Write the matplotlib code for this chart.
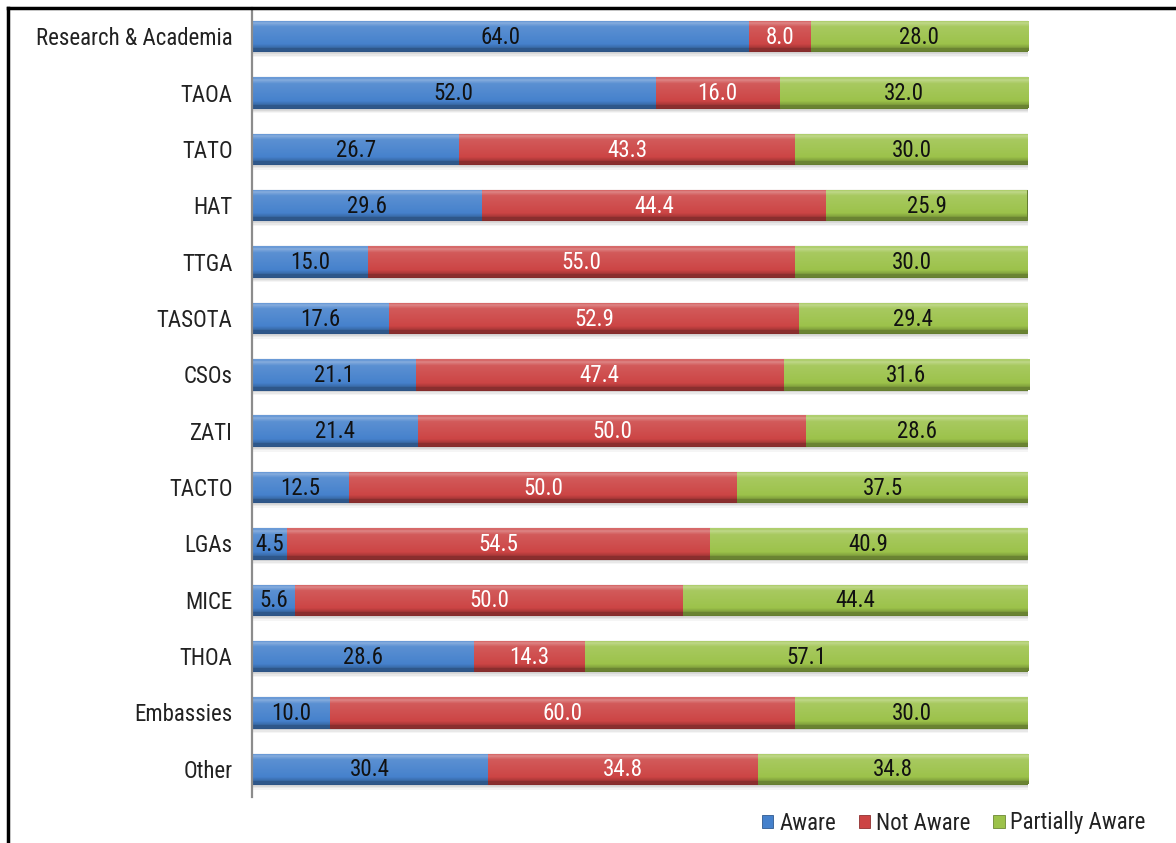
import numpy as np
import matplotlib
matplotlib.use("Agg")
import matplotlib.pyplot as plt
from matplotlib.patches import Patch
from matplotlib.lines import Line2D
from matplotlib.colors import to_rgb

categories = ["Research & Academia", "TAOA", "TATO", "HAT", "TTGA", "TASOTA",
              "CSOs", "ZATI", "TACTO", "LGAs", "MICE", "THOA", "Embassies", "Other"]
aware = [64.0, 52.0, 26.7, 29.6, 15.0, 17.6, 21.1, 21.4, 12.5, 4.5, 5.6, 28.6, 10.0, 30.4]
not_aware = [8.0, 16.0, 43.3, 44.4, 55.0, 52.9, 47.4, 50.0, 50.0, 54.5, 50.0, 14.3, 60.0, 34.8]
partially = [28.0, 32.0, 30.0, 25.9, 30.0, 29.4, 31.6, 28.6, 37.5, 40.9, 44.4, 57.1, 30.0, 34.8]
series_names = ["Aware", "Not Aware", "Partially Aware"]
series_colors = ["#4581cc", "#cc4444", "#9cc24a"]
label_colors = ["#111111", "#ffffff", "#111111"]

plt.rcParams["font.family"] = ["Roboto Condensed", "DejaVu Sans"]
FS = 16.5

fig = plt.figure(figsize=(11.76, 8.43), dpi=100)
ax = fig.add_axes([252 / 1176, 1 - 797 / 843, (1028 - 252) / 1176, (797 - 8) / 843])

n = len(categories)
ypos = np.arange(n)[::-1]
bar_h = 0.54


def mix(c, other, t):
    c = np.array(to_rgb(c))
    o = np.array(to_rgb(other))
    return c * (1 - t) + o * t


def gradient(color, rows=40):
    prof = np.zeros((rows, 1, 3))
    for r in range(rows):
        f = r / (rows - 1)
        if f < 0.06:
            col = mix(color, "white", 0.2)
        elif f < 0.2:
            col = mix(color, "white", 0.4 - (f - 0.06) * 2.0)
        elif f < 0.78:
            col = mix(color, "white", 0.12 - (f - 0.2) * 0.2)
        elif f < 0.9:
            col = mix(color, "black", (f - 0.78) * 1.5)
        else:
            col = mix(color, "black", 0.32)
        prof[r, 0] = col
    return prof


# soft drop shadow under each full bar
totals = np.array(aware) + np.array(not_aware) + np.array(partially)
for off, a in [(0.1, 0.12), (0.075, 0.18), (0.05, 0.25)]:
    ax.barh(ypos - off, totals + 0.3, height=bar_h, left=0.0, color="#b0b0b0",
            alpha=a, zorder=1, linewidth=0)

left = np.zeros(n)
for vals, col, tcol in zip([aware, not_aware, partially], series_colors, label_colors):
    vals = np.array(vals)
    bars = ax.barh(ypos, vals, height=bar_h, left=left, color=col,
                   edgecolor=mix(col, "black", 0.35), linewidth=0.8, zorder=2)
    grad = gradient(col)
    for p in bars.patches:
        x0, y0 = p.get_x(), p.get_y()
        w, h = p.get_width(), p.get_height()
        im = ax.imshow(grad, extent=(x0, x0 + w, y0, y0 + h), aspect="auto",
                       interpolation="bilinear", zorder=3)
        im.set_clip_path(p)
    for p, v in zip(bars.patches, vals):
        ax.text(p.get_x() + p.get_width() / 2, p.get_y() + p.get_height() / 2 - 0.02,
                f"{v:.1f}", ha="center", va="center", color=tcol,
                fontsize=FS, zorder=5)
    left = left + vals

for s in ["top", "right", "bottom"]:
    ax.spines[s].set_visible(False)
ax.spines["left"].set_color("#8c8c8c")
ax.spines["left"].set_linewidth(1.6)
ax.spines["left"].set_zorder(6)

ax.set_xlim(0, 100)
ax.set_ylim(-0.5, n - 0.5)
ax.set_yticks(ypos)
ax.set_yticklabels(categories, fontsize=FS, color="#222222")
ax.tick_params(axis="y", length=0, pad=14)
ax.set_xticks([])

# frame lines along the top and left of the figure
fig.add_artist(Line2D([8 / 1176, 1], [1 - 8 / 843, 1 - 8 / 843], color="black",
                      linewidth=2.5, transform=fig.transFigure))
fig.add_artist(Line2D([8 / 1176, 8 / 1176], [0, 1 - 8 / 843], color="black",
                      linewidth=2.5, transform=fig.transFigure))

handles = [Patch(facecolor=c, edgecolor=mix(c, "black", 0.3), linewidth=0.6) for c in series_colors]
fig.legend(handles, series_names, loc="center right",
           bbox_to_anchor=(1155 / 1176, 1 - 823 / 843), ncol=3, frameon=False,
           fontsize=FS, handlelength=0.5, handleheight=0.5, handletextpad=0.25,
           columnspacing=1.0, labelcolor="#222222", borderaxespad=0)

fig.savefig("out.png", dpi=100)
